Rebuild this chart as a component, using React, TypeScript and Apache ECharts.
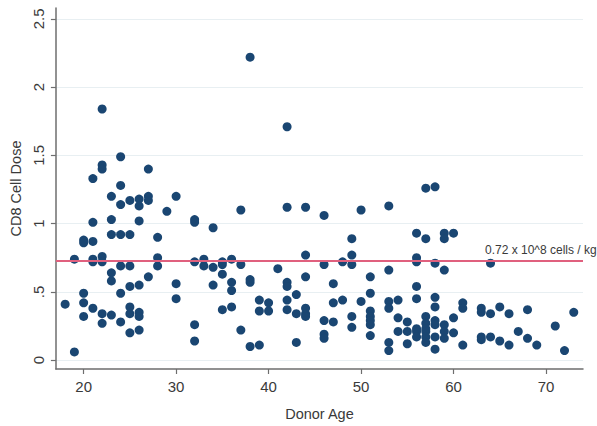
import React, { useEffect, useRef } from "react";
import * as echarts from "echarts";

const ages: number[] = [
  18,
  19, 19,
  20, 20, 20, 20, 20,
  21, 21, 21, 21, 21, 21,
  22, 22, 22, 22, 22, 22, 22,
  23, 23, 23, 23, 23, 23,
  24, 24, 24, 24, 24, 24, 24,
  25, 25, 25, 25, 25, 25, 25,
  26, 26, 26, 26, 26, 26, 26,
  27, 27, 27, 27,
  28, 28, 28,
  29,
  30, 30, 30,
  32, 32, 32, 32, 32,
  33, 33,
  34, 34, 34,
  35, 35, 35, 35,
  36, 36, 36, 36,
  37, 37, 37,
  38, 38, 38, 38,
  39, 39, 39,
  40, 40,
  41,
  42, 42, 42, 42, 42, 42,
  43, 43, 43,
  44, 44, 44, 44, 44, 44,
  46, 46, 46, 46, 46,
  47, 47, 47,
  48, 48,
  49, 49, 49, 49, 49,
  50, 50,
  51, 51, 51, 51, 51, 51, 51,
  53, 53, 53, 53, 53, 53,
  54, 54, 54,
  55, 55, 55,
  56, 56, 56, 56, 56, 56, 56, 56,
  57, 57, 57, 57, 57, 57, 57, 57,
  58, 58, 58, 58, 58, 58, 58, 58,
  59, 59, 59, 59, 59, 59,
  60, 60, 60,
  61, 61, 61,
  63, 63, 63, 63,
  64, 64, 64,
  65, 65,
  66, 66,
  67,
  68, 68,
  69,
  71,
  72,
  73,
];

const doses: number[] = [
  0.41,
  0.74, 0.06,
  0.88, 0.86, 0.49, 0.42, 0.32,
  1.33, 1.01, 0.87, 0.74, 0.72, 0.38,
  1.84, 1.43, 1.4, 0.76, 0.72, 0.34, 0.27,
  1.2, 1.03, 0.92, 0.64, 0.58, 0.33,
  1.49, 1.28, 1.14, 0.92, 0.69, 0.49, 0.28,
  1.17, 0.92, 0.69, 0.54, 0.39, 0.34, 0.2,
  1.18, 1.13, 1.02, 0.55, 0.35, 0.32, 0.22,
  1.4, 1.2, 1.17, 0.61,
  0.9, 0.75, 0.69,
  1.09,
  1.2, 0.56, 0.45,
  1.03, 1.01, 0.72, 0.26, 0.14,
  0.74, 0.69,
  0.97, 0.68, 0.55,
  0.72, 0.7, 0.63, 0.37,
  0.74, 0.57, 0.51, 0.39,
  1.1, 0.7, 0.22,
  2.22, 0.59, 0.57, 0.1,
  0.44, 0.36, 0.11,
  0.42, 0.36,
  0.67,
  1.71, 1.12, 0.57, 0.54, 0.44, 0.37,
  0.48, 0.34, 0.13,
  1.12, 0.77, 0.61, 0.38, 0.34, 0.32,
  1.06, 0.7, 0.29, 0.19, 0.16,
  0.56, 0.42, 0.28,
  0.72, 0.44,
  0.89, 0.77, 0.7, 0.32, 0.24,
  1.1, 0.43,
  0.61, 0.49, 0.36, 0.32, 0.29, 0.26, 0.18,
  1.13, 0.66, 0.43, 0.38, 0.13, 0.07,
  0.44, 0.31, 0.21,
  0.28, 0.21, 0.12,
  0.93, 0.75, 0.72, 0.54, 0.45, 0.23, 0.21, 0.17,
  1.26, 0.89, 0.32, 0.27, 0.23, 0.21, 0.17, 0.13,
  1.27, 0.71, 0.46, 0.39, 0.29, 0.26, 0.17, 0.08,
  0.93, 0.89, 0.66, 0.26, 0.21, 0.16,
  0.93, 0.31, 0.2,
  0.42, 0.38, 0.11,
  0.38, 0.35, 0.17, 0.15,
  0.71, 0.34, 0.17,
  0.39, 0.14,
  0.34, 0.11,
  0.21,
  0.37, 0.16,
  0.11,
  0.25,
  0.07,
  0.35,
];

const xTicks: number[] = [20, 30, 40, 50, 60, 70];
const yTicks: number[] = [0, 0.5, 1, 1.5, 2, 2.5];
const yTickLabels: string[] = ["0", ".5", "1", "1.5", "2", "2.5"];
const thresholdValue = 0.735;
const thresholdLabel = "0.72 x 10^8 cells / kg";
const xTitle = "Donor Age";
const yTitle = "CD8 Cell Dose";

const FONT = "'Liberation Sans', Arial, Helvetica, sans-serif";

export default function App() {
  const ref = useRef<HTMLDivElement>(null);
  useEffect(() => {
    if (!ref.current) return;
    const chart = echarts.init(ref.current, null, { renderer: "svg" });
    const points = ages.map((a, i) => [a, doses[i]]);
    chart.setOption({
      animation: false,
      backgroundColor: "#ffffff",
      textStyle: { fontFamily: FONT },
      grid: { left: 53, right: 14, top: 8, bottom: 53, containLabel: false },
      xAxis: {
        type: "value",
        min: 17,
        max: 74,
        name: xTitle,
        nameLocation: "middle",
        nameGap: 37,
        nameTextStyle: { fontSize: 14.5, color: "#3a3a3a", fontFamily: FONT },
        axisLine: { show: true, onZero: false, lineStyle: { color: "#6e6e6e", width: 1.5 } },
        axisTick: { show: true, length: 5, customValues: xTicks, lineStyle: { color: "#6e6e6e", width: 1.2 } },
        axisLabel: {
          customValues: xTicks,
          fontSize: 15,
          color: "#3a3a3a",
          margin: 10,
          fontFamily: FONT,
        },
        splitLine: { show: false },
      },
      yAxis: {
        type: "value",
        min: -0.065,
        max: 2.58,
        name: yTitle,
        nameLocation: "middle",
        nameGap: 30,
        nameTextStyle: { fontSize: 14.5, color: "#3a3a3a", fontFamily: FONT },
        axisLine: { show: true, onZero: false, lineStyle: { color: "#6e6e6e", width: 1.5 } },
        axisTick: { show: true, length: 5, customValues: yTicks, lineStyle: { color: "#6e6e6e", width: 1.2 } },
        axisLabel: {
          customValues: yTicks,
          rotate: 90,
          fontSize: 15,
          color: "#3a3a3a",
          margin: 10,
          fontFamily: FONT,
          formatter: (v: number) => {
            const idx = yTicks.findIndex((t) => Math.abs(t - v) < 1e-9);
            return idx >= 0 ? yTickLabels[idx] : "";
          },
        },
        splitLine: { show: true, lineStyle: { color: "#e8eff2", width: 1 } },
      },
      series: [
        {
          type: "scatter",
          data: points,
          symbol: "circle",
          symbolSize: 9,
          itemStyle: { color: "#1a4672", opacity: 1 },
          markLine: {
            silent: true,
            symbol: "none",
            lineStyle: { color: "#e0607e", width: 2, type: "solid", opacity: 1 },
            label: { show: false },
            data: [{ yAxis: thresholdValue }],
          },
          z: 3,
        },
      ],
      graphic: [
        {
          type: "text",
          left: 485,
          top: 244,
          style: {
            text: thresholdLabel,
            fontSize: 12,
            fill: "#3a3a3a",
            fontFamily: FONT,
          },
        },
      ],
    });
    return () => chart.dispose();
  }, []);
  return (
    <div
      ref={ref}
      style={{ position: "fixed", left: 0, top: 0, width: 597, height: 426 }}
    />
  );
}
